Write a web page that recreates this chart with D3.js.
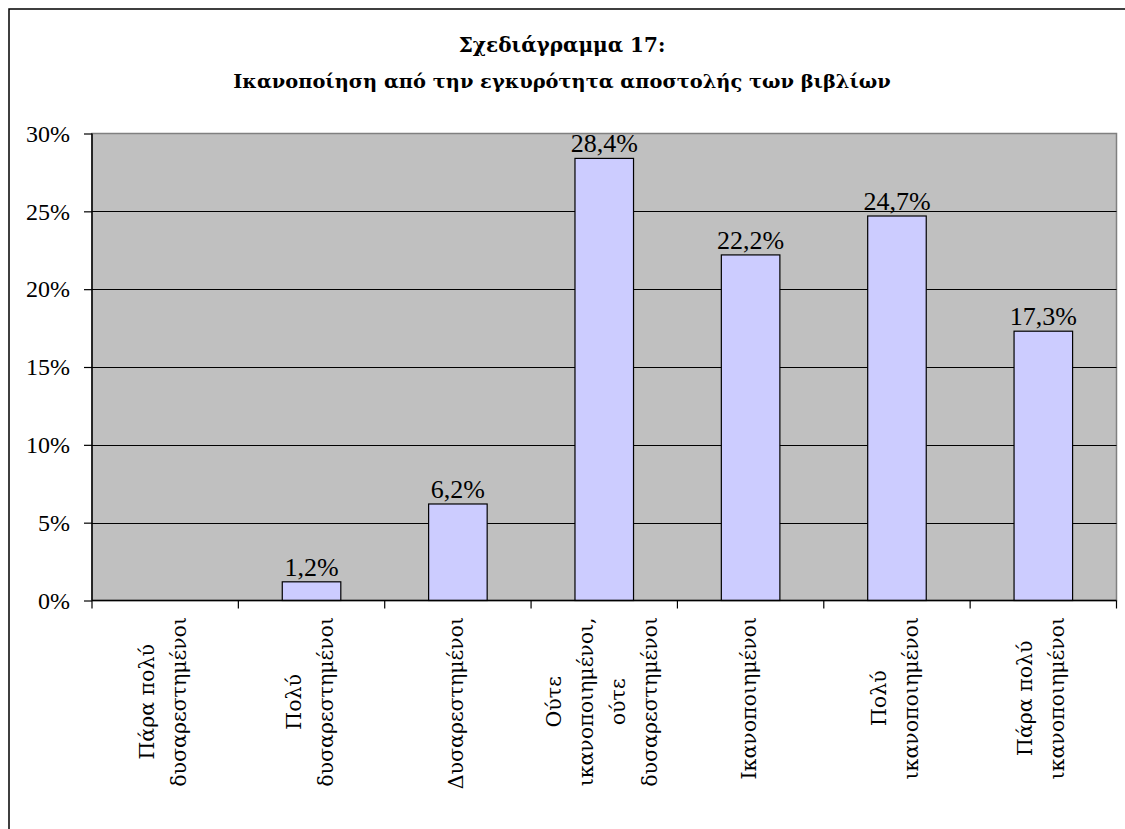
<!DOCTYPE html>
<html>
<head>
<meta charset="utf-8">
<script src="https://cdn.jsdelivr.net/npm/d3@7"></script>
<style>
  html, body { margin: 0; padding: 0; background: #ffffff; }
  svg { display: block; }
  text { font-family: "Liberation Serif", serif; fill: #000; }
  text.gr { font-family: "DejaVu Serif", serif; }
</style>
</head>
<body>
<svg id="chart" width="1125" height="829"></svg>
<script>
// Satisfaction categories (each entry split into the lines it is printed on)
const categories = [
  ["Πάρα πολύ", "δυσαρεστημένοι"],
  ["Πολύ", "δυσαρεστημένοι"],
  ["Δυσαρεστημένοι"],
  ["Ούτε", "ικανοποιημένοι,", "ούτε", "δυσαρεστημένοι"],
  ["Ικανοποιημένοι"],
  ["Πολύ", "ικανοποιημένοι"],
  ["Πάρα πολύ", "ικανοποιημένοι"]
];
// Share of respondents per category, in percent
const values = [0, 1.2, 6.2, 28.4, 22.2, 24.7, 17.3];
// Value axis ticks, in percent
const yTicks = [0, 5, 10, 15, 20, 25, 30];
const titleLines = ["Σχεδιάγραμμα 17:", "Ικανοποίηση από την εγκυρότητα αποστολής των βιβλίων"];

const svg = d3.select("#chart");
const W = 1125, H = 829;
const plot = { left: 92, right: 1116.5, top: 133.5, bottom: 600.5 };

// outer frame of the chart (its right and bottom edges run past the canvas)
svg.append("rect")
  .attr("x", 9).attr("y", 9)
  .attr("width", W + 20).attr("height", H + 20)
  .attr("fill", "#ffffff")
  .attr("stroke", "#000").attr("stroke-width", 1.5);

// title, two centred bold lines
const title = svg.append("text")
  .attr("class", "gr")
  .attr("text-anchor", "middle")
  .attr("font-weight", "bold")
  .attr("font-size", 20);
titleLines.forEach((t, i) => {
  title.append("tspan").attr("x", 562).attr("y", 52 + i * 36)
    .attr("font-size", i === 0 ? 20 : 19.4)
    .text(t);
});

const x = d3.scaleBand()
  .domain(d3.range(categories.length))
  .range([plot.left, plot.right])
  .paddingInner(0).paddingOuter(0);

const y = d3.scaleLinear()
  .domain([0, 30])
  .range([plot.bottom, plot.top]);

// plot background
svg.append("rect")
  .attr("x", plot.left).attr("y", plot.top)
  .attr("width", plot.right - plot.left).attr("height", plot.bottom - plot.top)
  .attr("fill", "#c0c0c0")
  .attr("stroke", "#808080").attr("stroke-width", 1.5);

// horizontal gridlines
svg.append("g")
  .selectAll("line")
  .data(yTicks.filter(d => d > 0 && d < 30))
  .join("line")
  .attr("x1", plot.left).attr("x2", plot.right)
  .attr("y1", d => Math.round(y(d)) + 0.5).attr("y2", d => Math.round(y(d)) + 0.5)
  .attr("stroke", "#000").attr("stroke-width", 1);

// bars
const barW = x.bandwidth() * 0.4;
svg.append("g")
  .selectAll("rect")
  .data(values.map((v, i) => ({ v, i })).filter(d => d.v > 0))
  .join("rect")
  .attr("x", d => x(d.i) + (x.bandwidth() - barW) / 2)
  .attr("y", d => y(d.v))
  .attr("width", barW)
  .attr("height", d => y(0) - y(d.v))
  .attr("fill", "#ccccff")
  .attr("stroke", "#000").attr("stroke-width", 1.2);

// value labels above bars
svg.append("g")
  .selectAll("text")
  .data(values.map((v, i) => ({ v, i })).filter(d => d.v > 0))
  .join("text")
  .attr("x", d => x(d.i) + x.bandwidth() / 2)
  .attr("y", d => y(d.v) - 6)
  .attr("text-anchor", "middle")
  .attr("font-size", 26)
  .text(d => d.v.toFixed(1).replace(".", ",") + "%");

// y axis
const yAxis = d3.axisLeft(y)
  .tickValues(yTicks)
  .tickSize(8)
  .tickPadding(14)
  .tickFormat(d => d + "%");
const gy = svg.append("g")
  .attr("transform", `translate(${plot.left},0)`)
  .call(yAxis);
gy.select(".domain").attr("stroke", "#000").attr("stroke-width", 1.5).attr("d", `M0,${plot.top}V${plot.bottom}`);
gy.selectAll(".tick line").attr("stroke", "#000").attr("stroke-width", 1.2);
gy.selectAll(".tick text")
  .attr("font-family", null)
  .attr("font-size", 24)
  .attr("fill", "#000");

// x axis with ticks on category boundaries
const bounds = d3.range(categories.length + 1).map(i => plot.left + i * x.step());
const gx = svg.append("g");
gx.append("line")
  .attr("x1", plot.left).attr("x2", plot.right)
  .attr("y1", plot.bottom).attr("y2", plot.bottom)
  .attr("stroke", "#000").attr("stroke-width", 1.5);
gx.selectAll("line.tk")
  .data(bounds)
  .join("line")
  .attr("class", "tk")
  .attr("x1", d => d).attr("x2", d => d)
  .attr("y1", plot.bottom).attr("y2", plot.bottom + 8)
  .attr("stroke", "#000").attr("stroke-width", 1.2);

// rotated category labels, lines centred on the longest one
const lineGap = 32;
const labelTop = 617;
categories.forEach((lines, i) => {
  const cx = x(i) + x.bandwidth() / 2;
  const g = svg.append("g");
  const texts = lines.map(t => g.append("text")
    .attr("class", "gr")
    .attr("font-size", 20.5)
    .attr("text-anchor", "middle")
    .text(t));
  const maxLen = d3.max(texts, t => t.node().getComputedTextLength());
  texts.forEach((t, j) => {
    const bx = cx + (j - (lines.length - 1) / 2) * lineGap + 5;
    t.attr("transform", `translate(${bx},${labelTop + maxLen / 2}) rotate(-90)`);
  });
});
</script>
</body>
</html>
